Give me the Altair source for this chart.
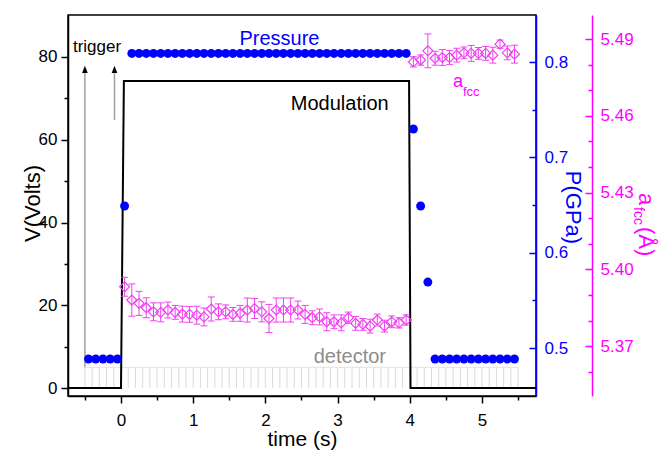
import altair as alt
import pandas as pd

FONT = "Liberation Sans"
BLUE = "#0000ff"
MAG = "#ff00ff"
DIA = "#f040f0"

X_DOM = [-0.734, 5.748]
V_DOM = [-1.93, 90.15]
P_DOM = [0.4497, 0.8493]
A_DOM = [5.3505, 5.4994]

# ---------------- data ----------------
# modulation voltage (left axis)
mod_t = [-0.73, 0.0, 0.04, 3.99, 4.01, 5.75]
mod_v = [0.0, 0.0, 74.2, 74.2, 0.0, 0.0]

# pressure (blue axis)
press_t = [-0.45, -0.35, -0.25, -0.15, -0.05,
           0.05,
           0.15, 0.25, 0.35, 0.45, 0.55, 0.65, 0.75, 0.85, 0.95,
           1.05, 1.15, 1.25, 1.35, 1.45, 1.55, 1.65, 1.75, 1.85, 1.95,
           2.05, 2.15, 2.25, 2.35, 2.45, 2.55, 2.65, 2.75, 2.85, 2.95,
           3.05, 3.15, 3.25, 3.35, 3.45, 3.55, 3.65, 3.75, 3.85, 3.95,
           4.05, 4.15, 4.25,
           4.35, 4.45, 4.55, 4.65, 4.75, 4.85, 4.95, 5.05, 5.15, 5.25, 5.35, 5.45]
press_p = [0.4885, 0.4885, 0.4885, 0.4885, 0.4885,
           0.649,
           0.809, 0.809, 0.809, 0.809, 0.809, 0.809, 0.809, 0.809, 0.809,
           0.809, 0.809, 0.809, 0.809, 0.809, 0.809, 0.809, 0.809, 0.809, 0.809,
           0.809, 0.809, 0.809, 0.809, 0.809, 0.809, 0.809, 0.809, 0.809, 0.809,
           0.809, 0.809, 0.809, 0.809, 0.809, 0.809, 0.809, 0.809, 0.809, 0.809,
           0.7297, 0.649, 0.5692,
           0.4885, 0.4885, 0.4885, 0.4885, 0.4885, 0.4885, 0.4885, 0.4885, 0.4885, 0.4885, 0.4885, 0.4885]

# lattice parameter a_fcc (magenta axis)
afcc_t = [0.05, 0.15, 0.25, 0.35, 0.45, 0.55, 0.65, 0.75, 0.85, 0.95,
          1.05, 1.15, 1.25, 1.35, 1.45, 1.55, 1.65, 1.75, 1.85, 1.95,
          2.05, 2.15, 2.25, 2.35, 2.45, 2.55, 2.65, 2.75, 2.85, 2.95,
          3.05, 3.15, 3.25, 3.35, 3.45, 3.55, 3.65, 3.75, 3.85, 3.95,
          4.05, 4.15, 4.25, 4.35, 4.45, 4.55, 4.65, 4.75, 4.85, 4.95,
          5.05, 5.15, 5.25, 5.35, 5.45]
afcc_a = [5.3932, 5.3880, 5.3867, 5.3850, 5.3834, 5.3832, 5.3841, 5.3832, 5.3825, 5.3824,
          5.3821, 5.3814, 5.3845, 5.3834, 5.3834, 5.3824, 5.3828, 5.3841, 5.3847, 5.3834,
          5.3808, 5.3841, 5.3841, 5.3841, 5.3841, 5.3824, 5.3811, 5.3814, 5.3795, 5.3795,
          5.3791, 5.3811, 5.3789, 5.3785, 5.3778, 5.3802, 5.3778, 5.3795, 5.3791, 5.3802,
          5.4811, 5.4818, 5.4854, 5.4825, 5.4828, 5.4828, 5.4837, 5.4846, 5.4844, 5.4844,
          5.4844, 5.4837, 5.4880, 5.4846, 5.4841]
afcc_e = [0.0037, 0.0063, 0.0047, 0.0039, 0.0035, 0.0037, 0.0031, 0.0027, 0.0031, 0.0031,
          0.0035, 0.0035, 0.0047, 0.0031, 0.0027, 0.0027, 0.0031, 0.0047, 0.0039, 0.0039,
          0.0055, 0.0047, 0.0047, 0.0047, 0.0035, 0.0035, 0.0027, 0.0031, 0.0035, 0.0027,
          0.0031, 0.0022, 0.0027, 0.0023, 0.0027, 0.0023, 0.0023, 0.0023, 0.0020, 0.0020,
          0.0020, 0.0020, 0.0066, 0.0027, 0.0031, 0.0027, 0.0027, 0.0023, 0.0031, 0.0023,
          0.0027, 0.0031, 0.0016, 0.0027, 0.0035]

# detector frames (comb)
det_t = [-0.5, -0.4, -0.3, -0.2, -0.1, 0.0, 0.1, 0.2, 0.3, 0.4,
         0.5, 0.6, 0.7, 0.8, 0.9, 1.0, 1.1, 1.2, 1.3, 1.4,
         1.5, 1.6, 1.7, 1.8, 1.9, 2.0, 2.1, 2.2, 2.3, 2.4,
         2.5, 2.6, 2.7, 2.8, 2.9, 3.0, 3.1, 3.2, 3.3, 3.4,
         3.5, 3.6, 3.7, 3.8, 3.9, 4.0, 4.1, 4.2, 4.3, 4.4,
         4.5, 4.6, 4.7, 4.8, 4.9, 5.0, 5.1, 5.2, 5.3, 5.4, 5.5]
det_top = 5.0

# trigger arrows
trig_t = [-0.5, -0.09]
trig_lo = [5.0, 64.8]
trig_hi = [76.2, 76.2]
trig_head = [77.0, 77.0]

# tick positions
x_major = [0, 1, 2, 3, 4, 5]
x_minor = [-0.5, 0.5, 1.5, 2.5, 3.5, 4.5, 5.5]
v_major = [0, 20, 40, 60, 80]
v_minor = [10, 30, 50, 70]
p_major = [0.5, 0.6, 0.7, 0.8]
p_ticks = [0.5, 0.55, 0.6, 0.65, 0.7, 0.75, 0.8]
a_major = [5.37, 5.40, 5.43, 5.46, 5.49]
a_ticks = [5.35, 5.36, 5.37, 5.38, 5.39, 5.40, 5.41, 5.42, 5.43, 5.44, 5.45, 5.46, 5.47, 5.48, 5.49]

mod_df = pd.DataFrame({"t": mod_t, "v": mod_v})
p_df = pd.DataFrame({"t": press_t, "p": press_p})
a_df = pd.DataFrame({"t": afcc_t, "a": afcc_a, "e": afcc_e})
a_df["lo"] = a_df["a"] - a_df["e"]
a_df["hi"] = a_df["a"] + a_df["e"]
det_df = pd.DataFrame({"t": det_t, "v0": [0.0] * len(det_t), "v1": [det_top] * len(det_t)})
det_top_df = pd.DataFrame({"t0": [det_t[0]], "t1": [det_t[-1]], "v": [det_top]})
trig_df = pd.DataFrame({"t": trig_t, "lo": trig_lo, "hi": trig_hi, "head": trig_head})

# ---------------- scales & axes ----------------
Xs = alt.Scale(domain=X_DOM, nice=False, zero=False)
Vs = alt.Scale(domain=V_DOM, nice=False, zero=False)
Ps = alt.Scale(domain=P_DOM, nice=False, zero=False)
As = alt.Scale(domain=A_DOM, nice=False, zero=False)

x_major_axis = alt.Axis(
    orient="bottom", title="time (s)", values=x_major, format="d",
    tickSize=7, tickColor="black", tickWidth=1.5, domainColor="black", domainWidth=1.5,
    labelFontSize=17, labelColor="black", labelPadding=9, labelFlush=False,
    titleFontSize=21, titleColor="black", titleX=234, titleY=49,
    titleBaseline="alphabetic", titleAlign="center", grid=False)
x_minor_axis = alt.Axis(
    orient="bottom", title=None, values=x_minor, labels=False, domain=False,
    tickSize=4, tickColor="black", tickWidth=1.5, grid=False)

v_major_axis = alt.Axis(
    orient="left", title="V(Volts)", values=v_major, format="d",
    tickSize=7, tickColor="black", tickWidth=1.5, domainColor="black", domainWidth=1.5,
    labelFontSize=17, labelColor="black", labelPadding=4,
    titleFontSize=22, titleColor="black", titleX=-29, titleY=188, titleAngle=270,
    titleBaseline="alphabetic", titleAlign="center", grid=False)
v_minor_axis = alt.Axis(
    orient="left", title=None, values=v_minor, labels=False, domain=False,
    tickSize=4, tickColor="black", tickWidth=1.5, grid=False)

p_label_axis = alt.Axis(
    orient="right", title="P(GPa)", values=p_major, format=".1f", ticks=False,
    labelPadding=8, domainColor=BLUE, domainWidth=1.5, labelColor=BLUE,
    labelFontSize=17, titleColor=BLUE, titleFontSize=22, titleX=29, titleY=192,
    titleAngle=90, titleBaseline="alphabetic", titleAlign="center", grid=False)
p_tick_axis = alt.Axis(
    orient="left", offset=-468, values=p_ticks, labels=False, domain=False, title=None,
    tickSize={"condition": {"test": "round(datum.value*100) % 10 === 0", "value": 7}, "value": 4},
    tickColor=BLUE, tickWidth=1.5, grid=False)

a_label_axis = alt.Axis(
    orient="right", offset=56, title=None, values=a_major, format=".2f", ticks=False,
    labelPadding=8, domainColor=MAG, domainWidth=1.5, labelColor=MAG,
    labelFontSize=17, grid=False)
a_tick_axis = alt.Axis(
    orient="left", offset=-524, values=a_ticks, labels=False, domain=False, title=None,
    tickSize={"condition": {"test": "round(datum.value*100) % 3 === 0", "value": 7}, "value": 4},
    tickColor=MAG, tickWidth=1.5, grid=False)

X = alt.X("t:Q", scale=Xs, axis=None)


def vy(field, axis=None):
    return alt.Y(f"{field}:Q", scale=Vs, axis=axis)


def note(label, t, v, size, color, align="center"):
    df = pd.DataFrame({"t": [t], "v": [v], "label": [label]})
    return alt.Chart(df).mark_text(
        font=FONT, fontSize=size, color=color, align=align, baseline="alphabetic"
    ).encode(x=X, y=vy("v"), text="label:N")


# ---------------- V group ----------------
comb = alt.Chart(det_df).mark_rule(color="#dadada", strokeWidth=1).encode(
    x=alt.X("t:Q", scale=Xs, axis=x_major_axis), y=vy("v0", v_major_axis), y2="v1:Q")
minor_ticks = alt.Chart(det_df).mark_point(opacity=0).encode(
    x=alt.X("t:Q", scale=Xs, axis=x_minor_axis), y=vy("v0", v_minor_axis))
comb_top = alt.Chart(det_top_df).mark_rule(color="#e2e2e2", strokeWidth=1).encode(
    x=alt.X("t0:Q", scale=Xs, axis=None), x2="t1:Q", y=vy("v"))
trig_lines = alt.Chart(trig_df).mark_rule(color="#a0a0a0", strokeWidth=1.5).encode(
    x=X, y=vy("lo"), y2="hi:Q")
trig_heads = alt.Chart(trig_df).mark_point(
    shape="M0,-1L0.8,1L-0.8,1Z", filled=True, color="black", size=50, opacity=1
).encode(x=X, y=vy("head"))
mod_line = alt.Chart(mod_df).mark_line(color="black", strokeWidth=2, clip=True).encode(
    x=X, y=vy("v"))

texts = [
    note("trigger", -0.332, 81.3, 17, "black"),
    note("Pressure", 2.195, 82.9, 20, BLUE),
    note("Modulation", 3.03, 67.2, 20, "black"),
    note("detector", 3.17, 6.1, 20, "#8c8c8c"),
    note("a", 4.598, 72.8, 18, MAG, "left"),
    note("fcc", 4.737, 70.6, 13, MAG, "left"),
]

V_group = alt.layer(comb, minor_ticks, comb_top, trig_lines, trig_heads, mod_line,
                    *texts).resolve_axis(x="independent", y="independent")

# ---------------- a_fcc group ----------------
err = alt.Chart(a_df).mark_rule(color=DIA, strokeWidth=1).encode(
    x=X, y=alt.Y("lo:Q", scale=As, axis=None), y2="hi:Q")
cap_lo = alt.Chart(a_df).mark_tick(orient="horizontal", size=7, thickness=1, color=DIA, opacity=1).encode(
    x=X, y=alt.Y("lo:Q", scale=As, axis=None))
cap_hi = alt.Chart(a_df).mark_tick(orient="horizontal", size=7, thickness=1, color=DIA, opacity=1).encode(
    x=X, y=alt.Y("hi:Q", scale=As, axis=None))
diamonds = alt.Chart(a_df).mark_point(
    shape="diamond", filled=False, size=100, strokeWidth=1.2, color=DIA, opacity=1
).encode(x=X, y=alt.Y("a:Q", scale=As, axis=a_label_axis))
a_tick_layer = alt.Chart(a_df).mark_point(opacity=0).encode(
    x=X, y=alt.Y("a:Q", scale=As, axis=a_tick_axis))

one = pd.DataFrame({"k": [0]})
a_title_a = alt.Chart(one).mark_text(
    text="a", font=FONT, fontSize=22, color=MAG, angle=90, align="left", baseline="alphabetic"
).encode(x=alt.value(571), y=alt.value(178))
a_title_sub = alt.Chart(one).mark_text(
    text="fcc", font=FONT, fontSize=14, color=MAG, angle=90, align="left", baseline="alphabetic"
).encode(x=alt.value(566), y=alt.value(192))
a_title_unit = alt.Chart(one).mark_text(
    text="(Å)", font=FONT, fontSize=22, color=MAG, angle=90, align="left", baseline="alphabetic"
).encode(x=alt.value(571), y=alt.value(212))

A_group = alt.layer(err, cap_lo, cap_hi, diamonds, a_tick_layer,
                    a_title_a, a_title_sub, a_title_unit).resolve_axis(y="independent")

# ---------------- pressure group ----------------
p_points = alt.Chart(p_df).mark_circle(size=80, color=BLUE, opacity=1).encode(
    x=X, y=alt.Y("p:Q", scale=Ps, axis=p_label_axis))
p_tick_layer = alt.Chart(p_df).mark_point(opacity=0).encode(
    x=X, y=alt.Y("p:Q", scale=Ps, axis=p_tick_axis))
P_group = alt.layer(p_points, p_tick_layer).resolve_axis(y="independent")

chart = alt.layer(V_group, A_group, P_group).resolve_scale(y="independent").properties(
    width=468, height=381,
    padding={"left": 68, "top": 15, "right": 124, "bottom": 54},
    autosize=alt.AutoSizeParams(type="none"),
    background="white",
).configure_view(stroke="black", strokeWidth=1.5).configure_axis(
    labelFont=FONT, titleFont=FONT, titleFontWeight="normal", grid=False)

chart.save("out.html", embed_options={"renderer": "svg", "actions": False})
